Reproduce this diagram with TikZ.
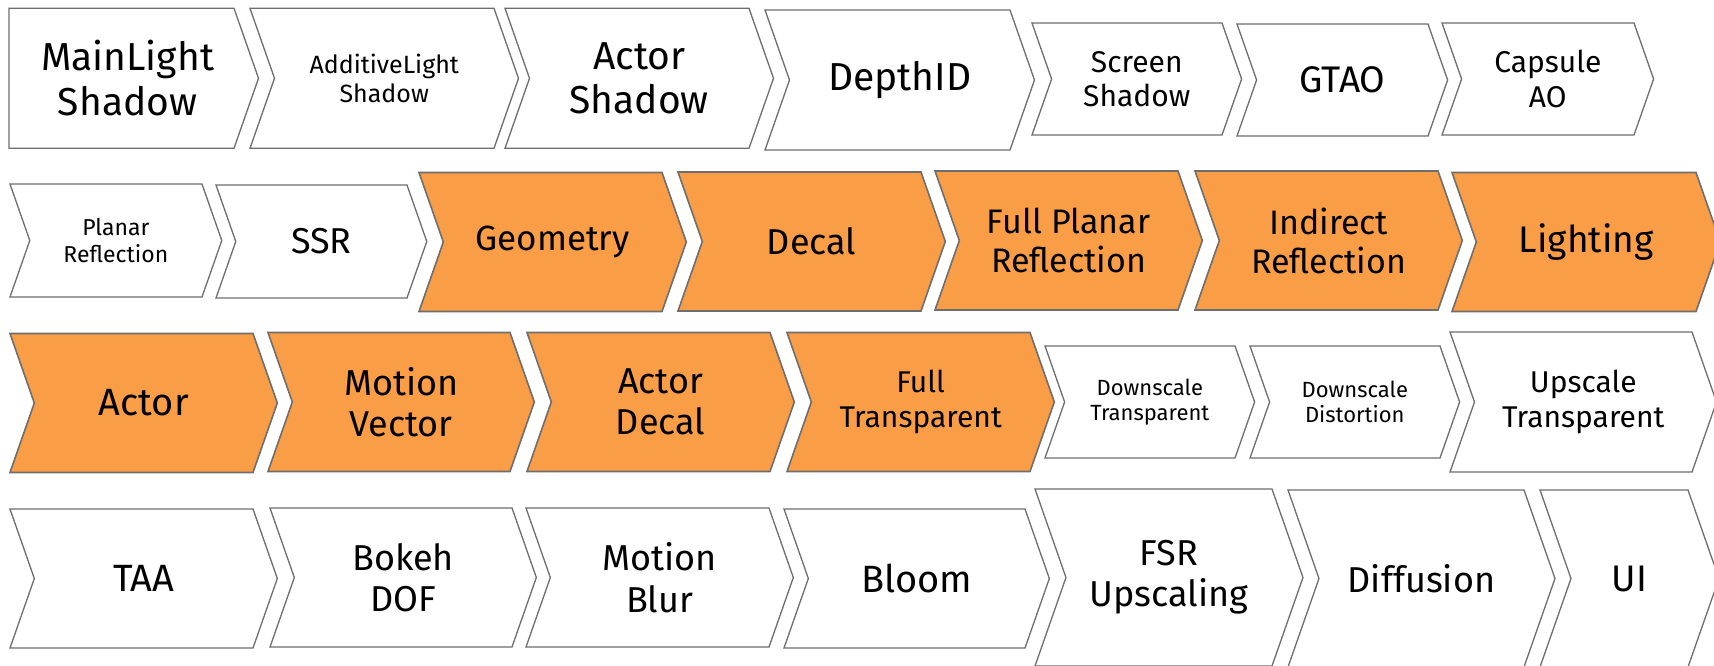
\documentclass[tikz,border=0pt]{standalone}
\usepackage{fontspec}
\setmainfont{Fira Sans}
\definecolor{org}{HTML}{FA9D47}
\definecolor{edge}{HTML}{6E6E6E}
\tikzset{
  wbox/.style={draw=edge, fill=white, line width=1.3pt},
  obox/.style={draw=edge, fill=org, line width=1.6pt},
  lbl/.style={align=center, inner sep=0pt, text=black},
}
% name, style, xl, xr, cy, h, notch(1/0), fontsize, text
\newcommand\chev[9]{%
  \pgfmathsetmacro\cd{0.175*#6}%
  \pgfmathsetmacro\ct{#5-#6/2}%
  \pgfmathsetmacro\cb{#5+#6/2}%
  \pgfmathsetmacro\cn{#3+#7*\cd}%
  \pgfmathsetmacro\ctip{#4+\cd}%
  \pgfmathsetmacro\cx{(#3+#4+\cd)/2-(1-#7)*\cd/4}%
  \pgfmathsetmacro\cbs{1.15*#8}%
  \draw[#2] (#3,\ct) -- (#4,\ct) -- (\ctip,#5) -- (#4,\cb) -- (#3,\cb) -- (\cn,#5) -- cycle;
  \node[lbl, font=\fontsize{#8}{\cbs}\selectfont] (#1) at (\cx,#5) {#9};
}
\begin{document}
\begin{tikzpicture}[x=1pt, y=-1pt]
\useasboundingbox (0,0) rectangle (1714,665);
% Row 1
\chev{mls}{wbox}{9}{234}{78.3}{140}{0}{39}{MainLight\\Shadow}
\chev{als}{wbox}{250}{494}{78.3}{140}{1}{25}{AdditiveLight\\Shadow}
\chev{acs}{wbox}{505}{749}{78.3}{140}{1}{39}{Actor\\Shadow}
\chev{did}{wbox}{765}{1010}{80}{140}{1}{39}{DepthID}
\chev{scs}{wbox}{1032}{1222}{79}{112}{1}{30}{Screen\\Shadow}
\chev{gtao}{wbox}{1237}{1428}{80}{112}{1}{37}{GTAO}
\chev{cao}{wbox}{1442}{1634}{79}{112}{1}{30}{Capsule\\AO}
% Row 2
\chev{plr}{wbox}{10}{202}{240.5}{113}{1}{23}{Planar\\Reflection}
\chev{ssr}{wbox}{216}{407}{241.5}{113}{1}{36}{SSR}
\chev{geo}{obox}{419}{662}{242}{139}{1}{35}{Geometry}
\chev{dec}{obox}{678}{921}{241.5}{139}{1}{36}{Decal}
\chev{fpr}{obox}{935}{1178}{240.5}{139}{1}{34}{Full Planar\\Reflection}
\chev{inr}{obox}{1195}{1438}{240.5}{139}{1}{34}{Indirect\\Reflection}
\chev{lit}{obox}{1452}{1696}{242}{139}{1}{37}{Lighting}
% Row 3
\chev{act}{obox}{10}{253}{403}{139}{1}{38}{Actor}
\chev{mov}{obox}{268}{510}{402}{139}{1}{36}{Motion\\Vector}
\chev{acd}{obox}{527}{770}{402}{139}{1}{36}{Actor\\Decal}
\chev{ftr}{obox}{787}{1030}{402}{139}{1}{30}{Full\\Transparent}
\chev{dst}{wbox}{1045}{1235}{402}{112}{1}{22}{Downscale\\Transparent}
\chev{dsd}{wbox}{1250}{1440}{402}{112}{1}{22}{Downscale\\Distortion}
\chev{ust}{wbox}{1450}{1692}{402}{140}{1}{30}{Upscale\\Transparent}
% Row 4
\chev{taa}{wbox}{10}{253}{578.5}{139}{1}{38}{TAA}
\chev{bok}{wbox}{270}{512}{577.5}{139}{1}{36}{Bokeh\\DOF}
\chev{mbl}{wbox}{526}{769}{577.5}{139}{1}{36}{Motion\\Blur}
\chev{blm}{wbox}{784}{1025}{578.5}{139}{1}{38}{Bloom}
\chev{fsr}{wbox}{1035}{1272}{577.5}{177}{1}{36}{FSR\\Upscaling}
\chev{dif}{wbox}{1288}{1524}{578.5}{177}{1}{36}{Diffusion}
\chev{ui}{wbox}{1540}{1688}{578.5}{177}{1}{37}{UI}
\end{tikzpicture}
\end{document}
